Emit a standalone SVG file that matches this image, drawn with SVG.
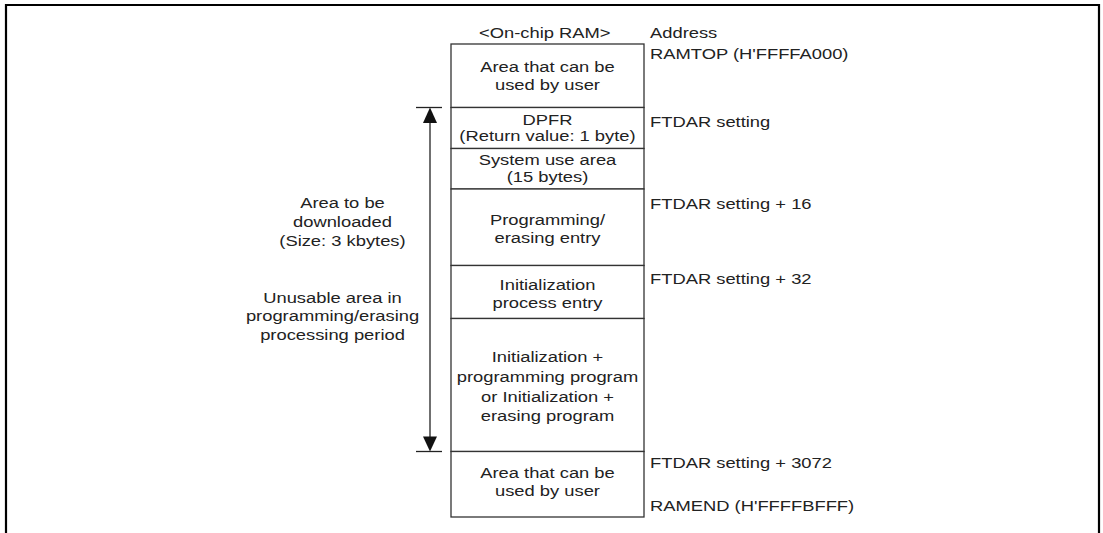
<svg xmlns="http://www.w3.org/2000/svg" width="1103" height="533" viewBox="0 0 1103 533">
<style>
.frame{fill:none;stroke:#000;stroke-width:2.2}
.blk{fill:#fff;stroke:#333;stroke-width:1.3}
.ln{stroke:#222;stroke-width:1.3;fill:none}
.ah{fill:#111}
text{font-family:"Liberation Sans",Arial,sans-serif;font-size:15.3px;fill:#222}
.c{text-anchor:middle}
</style>
<rect width="1103" height="533" fill="#fff"/>
<path class="frame" d="M6,533 V5 H1099 V533"/>
<g id="title"><g transform="scale(1.2 1)"><text class="c" x="454" y="38">&lt;On-chip RAM&gt;</text><text x="541.7" y="38">Address</text></g></g>
<g id="blk-user-top"><rect class="blk" x="451" y="44" width="193" height="63.5"/><g transform="scale(1.2 1)"><text class="c" x="456.25" y="72">Area that can be</text><text class="c" x="456.25" y="90">used by user</text><text x="541.7" y="59">RAMTOP (H'FFFFA000)</text></g></g>
<g id="blk-dpfr"><rect class="blk" x="451" y="107.5" width="193" height="41"/><g transform="scale(1.2 1)"><text class="c" x="456.25" y="125">DPFR</text><text class="c" x="456.25" y="141">(Return value: 1 byte)</text><text x="541.7" y="127">FTDAR setting</text></g></g>
<g id="blk-system"><rect class="blk" x="451" y="148.5" width="193" height="40.5"/><g transform="scale(1.2 1)"><text class="c" x="456.25" y="165">System use area</text><text class="c" x="456.25" y="182">(15 bytes)</text></g></g>
<g id="blk-prog-entry"><rect class="blk" x="451" y="189" width="193" height="76.5"/><g transform="scale(1.2 1)"><text class="c" x="456.25" y="225">Programming/</text><text class="c" x="456.25" y="243">erasing entry</text><text x="541.7" y="209">FTDAR setting + 16</text></g></g>
<g id="blk-init-entry"><rect class="blk" x="451" y="265.5" width="193" height="53"/><g transform="scale(1.2 1)"><text class="c" x="456.25" y="290">Initialization</text><text class="c" x="456.25" y="308">process entry</text><text x="541.7" y="284">FTDAR setting + 32</text></g></g>
<g id="blk-program"><rect class="blk" x="451" y="318.5" width="193" height="133"/><g transform="scale(1.2 1)"><text class="c" x="456.25" y="362">Initialization +</text><text class="c" x="456.25" y="382">programming program</text><text class="c" x="456.25" y="402">or Initialization +</text><text class="c" x="456.25" y="421">erasing program</text></g></g>
<g id="blk-user-bottom"><rect class="blk" x="451" y="451.5" width="193" height="65.5"/><g transform="scale(1.2 1)"><text class="c" x="456.25" y="478">Area that can be</text><text class="c" x="456.25" y="496">used by user</text><text x="541.7" y="468">FTDAR setting + 3072</text><text x="541.7" y="511">RAMEND (H'FFFFBFFF)</text></g></g>
<g id="left-labels"><g transform="scale(1.2 1)"><text class="c" x="285.4" y="208">Area to be</text><text class="c" x="285.4" y="227">downloaded</text><text class="c" x="285.4" y="246">(Size: 3 kbytes)</text><text class="c" x="277.1" y="303">Unusable area in</text><text class="c" x="277.1" y="321">programming/erasing</text><text class="c" x="277.1" y="340">processing period</text></g></g>
<g id="connectors">
<line class="ln" x1="416" y1="107.5" x2="442" y2="107.5"/>
<line class="ln" x1="416" y1="451.5" x2="442" y2="451.5"/>
<line class="ln" x1="430" y1="120" x2="430" y2="440"/>
<polygon class="ah" points="430,107.5 423,123 437,123"/>
<polygon class="ah" points="430,451.5 423,436.5 437,436.5"/>
</g>
</svg>
